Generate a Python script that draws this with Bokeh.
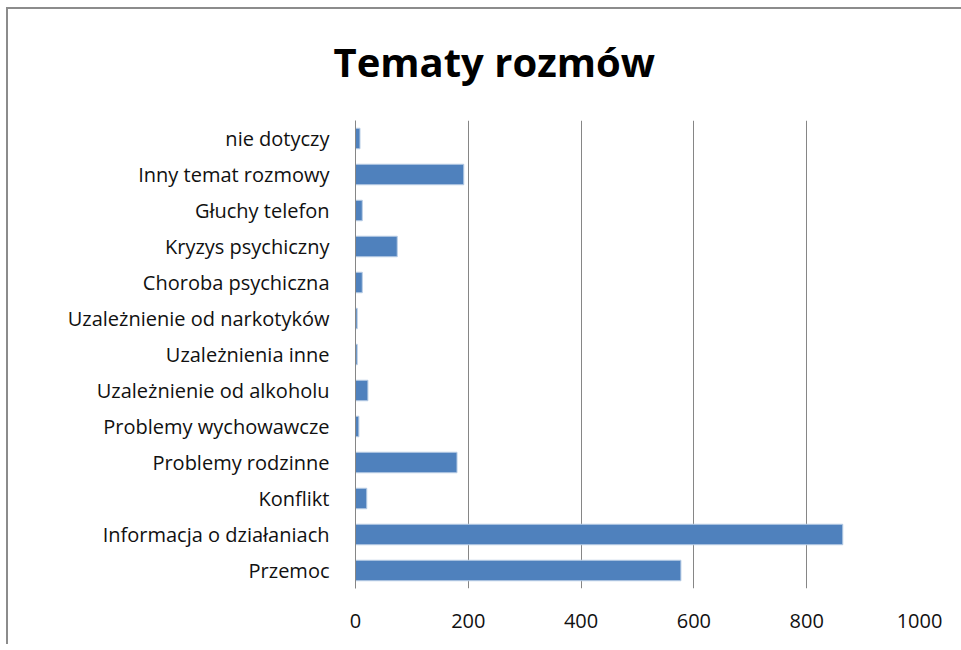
from bokeh.plotting import figure
from bokeh.models import Range1d, FixedTicker, Title, InlineStyleSheet
from bokeh.embed import file_html
from bokeh.resources import INLINE

categories = [
    "nie dotyczy",
    "Inny temat rozmowy",
    "Głuchy telefon",
    "Kryzys psychiczny",
    "Choroba psychiczna",
    "Uzależnienie od narkotyków",
    "Uzależnienia inne",
    "Uzależnienie od alkoholu",
    "Problemy wychowawcze",
    "Problemy rodzinne",
    "Konflikt",
    "Informacja o działaniach",
    "Przemoc",
]
values = [8, 192, 12, 74, 12, 3, 3, 22, 6, 180, 20, 864, 577]
x_ticks = [0, 200, 400, 600, 800, 1000]
title_text = "Tematy rozmów"

FONT = "Open Sans"

p = figure(
    width=975, height=644,
    y_range=list(reversed(categories)),
    x_range=Range1d(0, 1000),
    output_backend="svg", toolbar_location=None,
    min_border_left=355, min_border_right=56,
    min_border_top=120, min_border_bottom=56,
)
p.title = Title(
    text=title_text, align="left", offset=-22, standoff=63,
    text_font=FONT, text_font_style="bold", text_font_size="40px",
    text_color="black",
)
p.outline_line_color = None
p.background_fill_color = "white"
p.border_fill_color = None
p.stylesheets = [InlineStyleSheet(css=(
    ":host { background: "
    "linear-gradient(#8c8c8c, #8c8c8c) 6px 7px / 2px 100% no-repeat, "
    "linear-gradient(#8c8c8c, #8c8c8c) 6px 7px / 100% 2px no-repeat, "
    "white; }"
))]

p.hbar(y=categories, left=0, right=values, height=0.57,
       fill_color="#4F81BD", line_color="#B9CDE5", line_width=1)

# x axis
p.xaxis.ticker = FixedTicker(ticks=x_ticks)
p.xaxis.axis_line_color = None
p.xaxis.major_tick_line_color = None
p.xaxis.minor_tick_line_color = None
p.xaxis.major_tick_out = 0
p.xaxis.major_tick_in = 0
p.xaxis.major_label_standoff = 25
p.xaxis.major_label_text_font = FONT
p.xaxis.major_label_text_font_size = "20px"
p.xaxis.major_label_text_color = "#111111"

# y axis
p.yaxis.axis_line_color = "#868686"
p.yaxis.axis_line_width = 1
p.yaxis.major_tick_line_color = None
p.yaxis.major_tick_out = 0
p.yaxis.major_tick_in = 0
p.yaxis.major_label_standoff = 26
p.yaxis.major_label_text_font = FONT
p.yaxis.major_label_text_font_size = "20px"
p.yaxis.major_label_text_color = "#111111"

p.xgrid.grid_line_color = "#868686"
p.xgrid.grid_line_width = 1
p.xgrid.ticker = FixedTicker(ticks=x_ticks)
p.ygrid.grid_line_color = None

html = file_html(p, INLINE)
html = html.replace("</head>", "<style>html, body { overflow: hidden; }</style></head>", 1)
open("out.html", "w").write(html)
